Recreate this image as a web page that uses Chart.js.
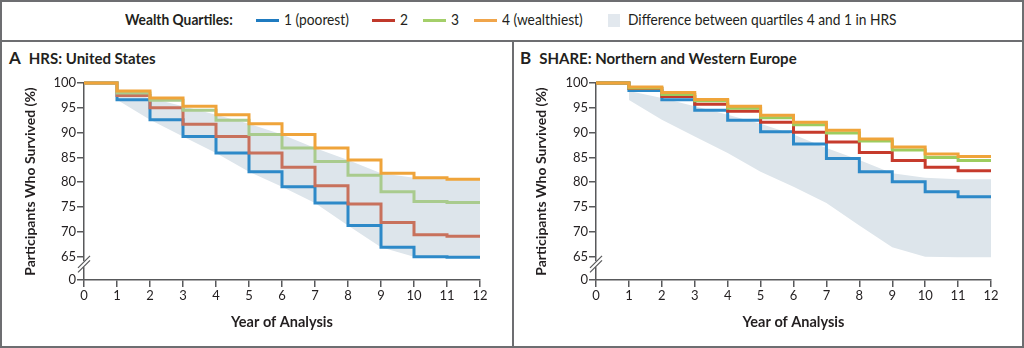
<!DOCTYPE html>
<html>
<head>
<meta charset="utf-8">
<script src="https://cdn.jsdelivr.net/npm/chart.js@4.4.1/dist/chart.umd.min.js"></script>
<style>
  html, body { margin: 0; padding: 0; background: #fff; }
  #wrap { position: relative; width: 1024px; height: 348px; overflow: hidden; color: #231f20; font-family: Lato, sans-serif; }
  .frame { position: absolute; border: 2px solid #6d6e71; box-sizing: border-box; }
  /* legend type is a narrow face: squeeze Lato horizontally */
  .legend-text { position: absolute; top: 9px; font-family: Lato, sans-serif; font-size: 16px; line-height: 20px; white-space: nowrap; transform: scaleX(0.86); transform-origin: left center; }
  .swatch { position: absolute; top: 19px; width: 23px; height: 3px; }
  .band-swatch { position: absolute; top: 14px; width: 12px; height: 13px; background: #e2e8ee; }
  .panel-title { position: absolute; top: 47px; font-weight: bold; white-space: nowrap; }
  .panel-title .tag { font-size: 17px; margin-right: 8px; }
  .panel-title .name { font-size: 15px; }
  canvas { position: absolute; }
</style>
</head>
<body>
<div id="wrap">
  <div class="frame" style="left:0;top:0;width:1024px;height:42px;"></div>
  <div class="frame" style="left:0;top:40px;width:514px;height:308px;"></div>
  <div class="frame" style="left:512px;top:40px;width:512px;height:308px;"></div>

  <span class="legend-text" style="left:125px;font-weight:bold;">Wealth Quartiles:</span>
  <div class="swatch" style="left:256px;background:#1f7bc0;"></div>
  <span class="legend-text" style="left:284px;">1 (poorest)</span>
  <div class="swatch" style="left:372px;background:#c0392b;"></div>
  <span class="legend-text" style="left:400px;">2</span>
  <div class="swatch" style="left:423px;background:#a4cf6a;"></div>
  <span class="legend-text" style="left:451px;">3</span>
  <div class="swatch" style="left:474px;background:#f0a54b;"></div>
  <span class="legend-text" style="left:502px;">4 (wealthiest)</span>
  <div class="band-swatch" style="left:608px;"></div>
  <span class="legend-text" style="left:628px;">Difference between quartiles 4 and 1 in HRS</span>

  <div class="panel-title" style="left:9px;"><span class="tag">A</span><span class="name">HRS: United States</span></div>
  <div class="panel-title" style="left:520px;"><span class="tag">B</span><span class="name">SHARE: Northern and Western Europe</span></div>

  <canvas id="chartA" width="509" height="303" style="left:3px;top:42px;"></canvas>
  <canvas id="chartB" width="508" height="303" style="left:514px;top:42px;"></canvas>
</div>

<script>
// survival (%) after the drop at each year of analysis
const years = [0, 1, 2, 3, 4, 5, 6, 7, 8, 9, 10, 11, 12];

const hrsQ1 = [100, 96.6, 92.6, 89.2, 85.9, 82.1, 79.1, 75.8, 71.3, 66.9, 65.0, 64.9, 64.9];
const hrsQ2 = [100, 97.5, 95.0, 91.7, 89.2, 85.9, 83.0, 79.3, 75.6, 71.9, 69.4, 69.1, 69.1];
const hrsQ3 = [100, 98.0, 96.5, 94.5, 92.5, 89.6, 86.9, 84.2, 81.4, 78.1, 76.1, 75.9, 75.9];
const hrsQ4 = [100, 98.4, 97.0, 95.3, 93.6, 91.8, 89.6, 86.9, 84.5, 81.8, 80.9, 80.6, 80.6];

const shareQ1 = [100, 98.5, 96.6, 94.5, 92.5, 90.2, 87.7, 84.8, 82.1, 80.1, 78.1, 77.1, 77.1];
const shareQ2 = [100, 98.9, 97.3, 95.7, 94.3, 92.1, 90.1, 88.1, 86.0, 84.4, 83.0, 82.3, 82.3];
const shareQ3 = [100, 99.0, 97.7, 96.4, 94.9, 93.0, 91.6, 89.9, 88.3, 86.5, 85.0, 84.4, 84.4];
const shareQ4 = [100, 99.2, 98.1, 96.7, 95.3, 93.5, 92.1, 90.5, 88.7, 87.1, 85.7, 85.2, 85.2];

const yTicks = [65, 70, 75, 80, 85, 90, 95, 100];
const xTicks = years;

// the axis is cut between 65 and 0; Y_FLOOR is where "0" sits
const Y_FLOOR = 60.3;
const BREAK_AT = 63.5;

const AXIS = '#58595b';
const TEXT = '#231f20';

const axisBreak = {
  id: 'axisBreak',
  afterDraw(chart) {
    const ctx = chart.ctx;
    const x = chart.chartArea.left;
    const y = chart.scales.y.getPixelForValue(BREAK_AT);
    ctx.save();
    ctx.fillStyle = '#fff';
    ctx.fillRect(x - 3, y - 3, 6, 6);
    ctx.strokeStyle = AXIS;
    ctx.lineWidth = 1.2;
    [-2.2, 2.2].forEach(d => {
      ctx.beginPath();
      ctx.moveTo(x - 6, y + d + 6);
      ctx.lineTo(x + 6, y + d - 6);
      ctx.stroke();
    });
    ctx.restore();
  }
};

const pts = arr => years.map((x, i) => ({ x: x, y: arr[i] }));
const bandPts = arr => years.slice(1).map(x => ({ x: x, y: arr[x] }));

function stepLine(arr, color, order) {
  return {
    data: pts(arr),
    borderColor: color,
    borderWidth: 3,
    stepped: 'before',
    pointRadius: 0,
    fill: false,
    borderJoinStyle: 'miter',
    clip: 4,
    order: order
  };
}

function makePanel(canvasId, series, colors, geom) {
  const ctx = document.getElementById(canvasId).getContext('2d');
  return new Chart(ctx, {
    type: 'line',
    data: {
      datasets: [
        // HRS Q4 - Q1 gap, shared by both panels
        { data: bandPts(hrsQ4), borderWidth: 0, pointRadius: 0, backgroundColor: '#dde5eb', fill: '+1', order: 10 },
        { data: bandPts(hrsQ1), borderWidth: 0, pointRadius: 0, fill: false, order: 11 },
        stepLine(series[0], colors[0], 4),
        stepLine(series[1], colors[1], 3),
        stepLine(series[2], colors[2], 2),
        stepLine(series[3], colors[3], 1)
      ]
    },
    options: {
      responsive: false,
      animation: false,
      devicePixelRatio: 1,
      layout: { padding: { top: 41, right: geom.padRight, bottom: 0, left: 0 } },
      plugins: { legend: { display: false }, tooltip: { enabled: false } },
      scales: {
        x: {
          type: 'linear',
          min: 0,
          max: 12,
          afterBuildTicks: scale => { scale.ticks = xTicks.map(v => ({ value: v })); },
          afterFit: scale => { scale.height = geom.xHeight; },
          grid: { drawOnChartArea: false, drawTicks: true, tickLength: 7, color: AXIS, lineWidth: 1.5 },
          border: { display: true, color: AXIS, width: 1.5 },
          ticks: { color: TEXT, padding: 1, maxRotation: 0, font: { family: 'Lato', size: 13 } },
          title: {
            display: true,
            text: 'Year of Analysis',
            color: TEXT,
            font: { family: 'Lato', size: 14.5, weight: 'bold' },
            padding: { top: 0, bottom: 14 }
          }
        },
        y: {
          min: Y_FLOOR,
          max: 100,
          afterBuildTicks: scale => { scale.ticks = [Y_FLOOR].concat(yTicks).map(v => ({ value: v })); },
          afterFit: scale => { scale.width = geom.yWidth; },
          grid: { drawOnChartArea: false, drawTicks: true, tickLength: 7, color: AXIS, lineWidth: 1.5 },
          border: { display: true, color: AXIS, width: 1.5 },
          ticks: {
            color: TEXT,
            padding: 1,
            font: { family: 'Lato', size: 13 },
            callback: v => (v < 65 ? '0' : v)
          },
          title: {
            display: true,
            text: 'Participants Who Survived (%)',
            color: TEXT,
            font: { family: 'Lato', size: 14, weight: 'bold' },
            padding: { top: 19, bottom: 0 }
          }
        }
      }
    },
    plugins: [axisBreak]
  });
}

makePanel('chartA', [hrsQ1, hrsQ2, hrsQ3, hrsQ4],
  ['#2d89c8', '#c8715c', '#a9cb8e', '#efa43a'],
  { padRight: 32, xHeight: 65, yWidth: 81 });

makePanel('chartB', [shareQ1, shareQ2, shareQ3, shareQ4],
  ['#2d89c8', '#c63b2c', '#9dcc5e', '#efa43a'],
  { padRight: 31, xHeight: 65, yWidth: 82 });
</script>
</body>
</html>
